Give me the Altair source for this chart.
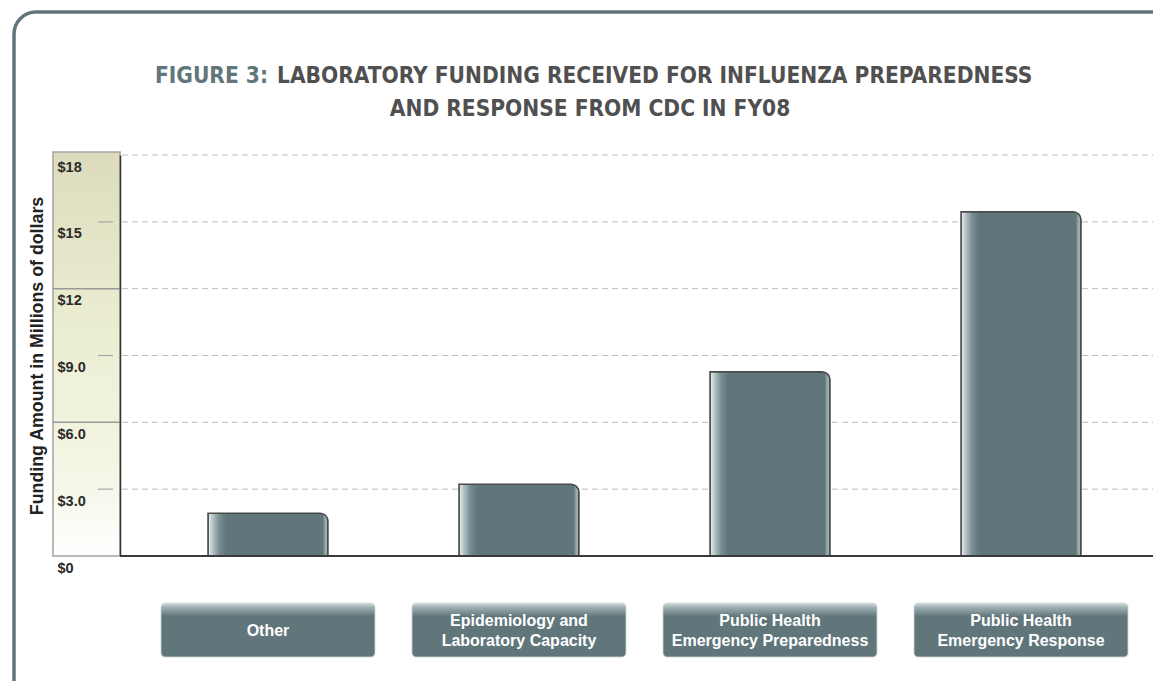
import altair as alt
import pandas as pd

# ---- data ----
categories = ["Other", "Epidemiology and Laboratory Capacity",
              "Public Health Emergency Preparedness", "Public Health Emergency Response"]
label_single = ["Other", "", "", ""]
label_line1 = ["", "Epidemiology and", "Public Health", "Public Health"]
label_line2 = ["", "Laboratory Capacity", "Emergency Preparedness", "Emergency Response"]
funding = [1.92, 3.22, 8.27, 15.45]
tick_values = [0, 3, 6, 9, 12, 15, 18]
tick_labels = ["$0", "$3.0", "$6.0", "$9.0", "$12", "$15", "$18"]
band_dividers = [6, 12]
minor_ticks = [3, 9, 15]

title_prefix = "FIGURE 3:"
title_line1 = "LABORATORY FUNDING RECEIVED FOR INFLUENZA PREPAREDNESS"
title_line2 = "AND RESPONSE FROM CDC IN FY08"
y_title = "Funding Amount in Millions of dollars"

SLATE = "#60767b"
W, H = 1033, 401

df = pd.DataFrame({"category": categories, "single": label_single,
                   "line1": label_line1, "line2": label_line2, "funding": funding})
one = pd.DataFrame({"k": [0]})

yscale = alt.Scale(domain=[0, 18], nice=False, zero=True)
xscale = alt.Scale(paddingInner=0.522, paddingOuter=0.3187, align=0.55)
x_enc = alt.X("category:N", sort=categories, scale=xscale, axis=None)

label_expr = " : ".join(f"datum.value == {v} ? '{t}'" for v, t in zip(tick_values, tick_labels)) + " : ''"

# outer rounded frame
frame = alt.Chart(one).mark_rect(
    fillOpacity=0, stroke=SLATE, strokeWidth=3.5, cornerRadius=22
).encode(x=alt.value(-106), x2=alt.value(1100), y=alt.value(-143), y2=alt.value(620))

# axis shaded box
box_grad = alt.LinearGradient(gradient="linear", x1=0, x2=0, y1=0, y2=1, stops=[
    alt.GradientStop(color="#dcdbbd", offset=0),
    alt.GradientStop(color="#eceed2", offset=0.45),
    alt.GradientStop(color="#f4f6e6", offset=0.8),
    alt.GradientStop(color="#ffffff", offset=1)])
axis_box = alt.Chart(one).mark_rect(
    color=box_grad, stroke="#a3a3a3", strokeWidth=1.5
).encode(x=alt.value(-67), x2=alt.value(0), y=alt.value(-3), y2=alt.value(H))

dividers = alt.Chart(pd.DataFrame({"v": band_dividers})).mark_rule(
    color="#9a9a9a", strokeWidth=1.5
).encode(y=alt.Y("v:Q", scale=yscale), x=alt.value(-67), x2=alt.value(0))

minors = alt.Chart(pd.DataFrame({"v": minor_ticks})).mark_rule(
    color="#a8a8a8", strokeWidth=1.2
).encode(y=alt.Y("v:Q", scale=yscale), x=alt.value(-22), x2=alt.value(-7))

# dashed grid
grid = alt.Chart(pd.DataFrame({"v": tick_values[1:]})).mark_rule(
    color="#bdbdbd", strokeWidth=1, strokeDash=[6, 4]
).encode(y=alt.Y("v:Q", scale=yscale), x=alt.value(2), x2=alt.value(W))

# bars
bar_grad = alt.LinearGradient(gradient="linear", x1=0, x2=1, y1=0, y2=0, stops=[
    alt.GradientStop(color="#eef2f3", offset=0),
    alt.GradientStop(color="#b4c2c5", offset=0.04),
    alt.GradientStop(color="#7b9095", offset=0.09),
    alt.GradientStop(color=SLATE, offset=0.15),
    alt.GradientStop(color=SLATE, offset=0.955),
    alt.GradientStop(color="#a9b7ba", offset=0.985),
    alt.GradientStop(color=SLATE, offset=1)])
bars = alt.Chart(df).mark_bar(
    color=bar_grad, stroke="#4a4a4a", strokeWidth=1.5, cornerRadiusTopRight=8
).encode(
    x=x_enc,
    y=alt.Y("funding:Q", scale=yscale, axis=alt.Axis(
        values=tick_values, labelExpr=label_expr, grid=False, ticks=False, tickSize=0,
        domain=True, domainColor="#333333", domainWidth=1.5, zindex=2,
        labelAlign="left", labelPadding=63, labelBaseline="top", labelOffset=5,
        labelFont="Liberation Sans", labelFontWeight="bold", labelFontSize=14.5,
        labelColor="#2a2a2a", labelOverlap=False,
        title=y_title, titleFont="Liberation Sans", titleFontWeight="bold",
        titleFontSize=17.8, titleColor="#222222", titleAngle=-90,
        titleX=-83, titleY=H / 2, titleAlign="center", titleBaseline="middle")),
)

baseline = alt.Chart(pd.DataFrame({"v": [0]})).mark_rule(
    color="#3a3a3a", strokeWidth=2
).encode(y=alt.Y("v:Q", scale=yscale), x=alt.value(0), x2=alt.value(W))

# category label boxes
lab_grad = alt.LinearGradient(gradient="linear", x1=0, x2=0, y1=0, y2=1, stops=[
    alt.GradientStop(color="#d6dddf", offset=0),
    alt.GradientStop(color="#9fb0b3", offset=0.08),
    alt.GradientStop(color=SLATE, offset=0.25),
    alt.GradientStop(color=SLATE, offset=1)])
label_boxes = alt.Chart(df).mark_bar(
    width=214, color=lab_grad, cornerRadius=4, stroke="#d0d5d6", strokeWidth=0.8
).encode(x=x_enc, y=alt.value(448), y2=alt.value(502))

lab_style = dict(font="Liberation Sans", fontWeight="bold", fontSize=16,
                 color="white", baseline="middle", align="center")
text_single = alt.Chart(df).mark_text(**lab_style).encode(
    x=x_enc, y=alt.value(476), text="single:N")
text_l1 = alt.Chart(df).mark_text(**lab_style).encode(
    x=x_enc, y=alt.value(466), text="line1:N")
text_l2 = alt.Chart(df).mark_text(**lab_style).encode(
    x=x_enc, y=alt.value(486), text="line2:N")

# title
TFONT = "DejaVu Sans Condensed"
TSIZE = 22.5
t_prefix = alt.Chart(one).mark_text(
    text=title_prefix, font=TFONT, fontWeight="bold", fontSize=TSIZE,
    color=SLATE, align="right", baseline="alphabetic"
).encode(x=alt.value(148), y=alt.value(-72))
t_line1 = alt.Chart(one).mark_text(
    text=title_line1, font=TFONT, fontWeight="bold", fontSize=TSIZE,
    color="#505050", align="left", baseline="alphabetic"
).encode(x=alt.value(157), y=alt.value(-72))
t_line2 = alt.Chart(one).mark_text(
    text=title_line2, font=TFONT, fontWeight="bold", fontSize=TSIZE,
    color="#505050", align="center", baseline="alphabetic"
).encode(x=alt.value(470), y=alt.value(-39))

chart = alt.layer(
    frame, axis_box, dividers, minors, grid, bars, baseline, label_boxes,
    text_single, text_l1, text_l2, t_prefix, t_line1, t_line2
).properties(
    width=W, height=H,
    autosize=alt.AutoSizeParams(type="none"),
    padding={"left": 112, "top": 147, "right": 0, "bottom": 125},
    background="white",
).configure_view(stroke=None)

chart.save("out.html", embed_options={"renderer": "svg", "actions": False})
